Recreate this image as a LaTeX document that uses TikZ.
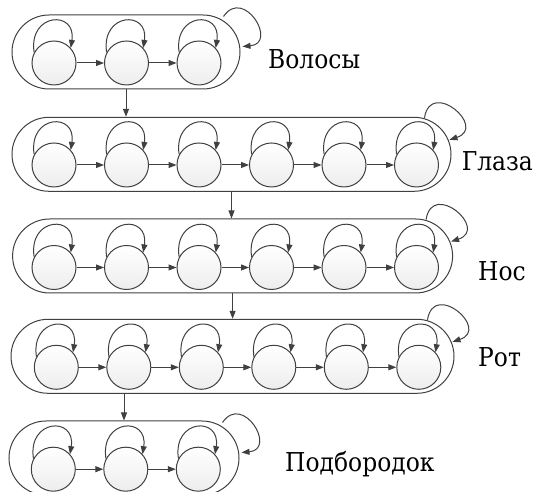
\documentclass[tikz,border=0pt]{standalone}
\usepackage{fontspec}
\setmainfont{DejaVu Serif}[FakeStretch=0.9]
\usepackage{tikz}
\usetikzlibrary{arrows.meta, calc}

\tikzset{
  state/.style={circle, draw=black!75, line width=1pt, top color=white, bottom color=black!7, minimum size=44pt, inner sep=0pt},
  group/.style={rectangle, rounded corners=37pt, draw=black!75, line width=1pt, minimum height=74pt, inner sep=0pt},
  arr/.style={draw=black!75, line width=1pt, -{Triangle[length=8pt,width=6pt]}},
  tag/.style={anchor=base west, inner sep=0pt, font=\fontsize{26}{32}\selectfont}
}

\begin{document}
\begin{tikzpicture}[x=1pt,y=1pt]
\useasboundingbox (0,0) rectangle (547,492);
\clip (0,0) rectangle (547,492);
\foreach \r/\cy/\cx/\n in {1/429/54/3, 2/327/54/6, 3/224.5/54/6, 4/124.7/56.3/6, 5/22.8/53.3/3} {
  \foreach \k in {1,...,\n} {
    \node[state] (c\r\k) at ({\cx+72.5*(\k-1)},\cy) {};
    \draw[arr] (c\r\k.152) .. controls +(-6,40) and +(6,38) .. (c\r\k.42);
  }
  \pgfmathtruncatemacro\m{\n-1}
  \foreach \k in {1,...,\m} {
    \pgfmathtruncatemacro\j{\k+1}
    \draw[arr] (c\r\k) -- (c\r\j);
  }
}
\node[group, minimum width=228pt] (g1) at (126,440) {};
\node[group, minimum width=439pt] (g2) at (231.5,337.7) {};
\node[group, minimum width=440pt] (g3) at (232.6,236) {};
\node[group, minimum width=443pt] (g4) at (232.5,135.7) {};
\node[group, minimum width=230pt] (g5) at (124,34) {};
\foreach \g in {1,5}
  \draw[arr] ($(g\g.north east)+(-17,-2)$) .. controls +(56:36) and +(5:36) .. ($(g\g.north east)+(2,-32)$);
\foreach \g in {2,3,4}
  \draw[arr] ($(g\g.north east)+(-27,-1)$) .. controls +(81:40) and +(18:40) .. ($(g\g.north east)+(-2,-23)$);
\draw[arr] (g1.south) -- (g1.south |- g2.north);
\draw[arr] (g2.south) -- (g2.south |- g3.north);
\draw[arr] (g3.south) -- (g3.south |- g4.north);
\draw[arr] (g5.north |- g4.south) -- (g5.north);
\node[tag] (hair) at (268,423.7) {Волосы};
\node[tag, anchor=base east] (eyes) at (533,321.3) {Глаза};
\node[tag] (nose) at (478,211) {Нос};
\node[tag] (mouth) at (478,125) {Рот};
\node[tag] (chin) at (285,20.6) {Подбородок};
\end{tikzpicture}
\end{document}
